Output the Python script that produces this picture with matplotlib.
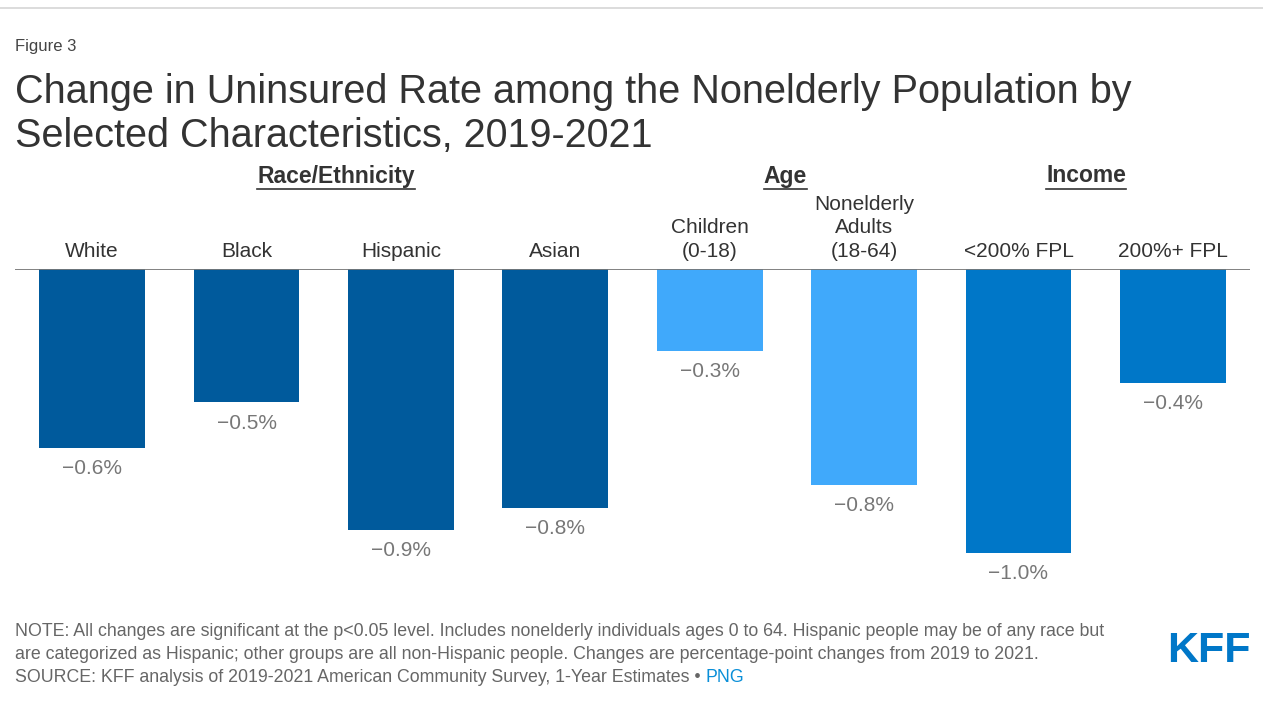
import matplotlib
matplotlib.use("Agg")
import matplotlib.pyplot as plt
from matplotlib.lines import Line2D
from matplotlib import font_manager

plt.rcParams['font.family'] = ['Liberation Sans', 'DejaVu Sans']

# data (percentage-point change 2019-2021)
categories = ['White', 'Black', 'Hispanic', 'Asian', 'Children\n(0-18)',
              'Nonelderly\nAdults\n(18-64)', '<200% FPL', '200%+ FPL']
values = [-0.63, -0.47, -0.92, -0.84, -0.29, -0.76, -1.0, -0.40]
groups = ['race', 'race', 'race', 'race', 'age', 'age', 'income', 'income']
group_titles = ['Race/Ethnicity', 'Age', 'Income']
group_pos = [1.58, 4.49, 6.44]

colors = {'race': '#005a9c', 'age': '#40a9fb', 'income': '#0077c8'}

W, H = 1263, 709
fig = plt.figure(figsize=(W / 100, H / 100), dpi=100)

# axes: x from 15 to 1250 px, y from 269 to 600 px
ax = fig.add_axes([15 / W, 1 - 600 / H, 1235 / W, 331 / H])
x = list(range(len(categories)))
ax.bar(x, values, width=0.685, color=[colors[g] for g in groups], zorder=2)
ax.set_xlim(-0.5, 7.5)
ax.set_ylim(-(600 - 269) / 284, 0)
ax.axhline(0, color='#777777', lw=1.3, zorder=3)
for s in ax.spines.values():
    s.set_visible(False)
ax.set_xticks([])
ax.set_yticks([])

for xi, v, lab in zip(x, values, categories):
    ax.annotate(lab, (xi, 0), xytext=(0, 6), textcoords='offset points',
                ha='center', va='bottom', fontsize=15, color='#333333',
                linespacing=1.3)
    ax.annotate('\u2212%.1f%%' % abs(v), (xi, v), xytext=(0, -8),
                textcoords='offset points', ha='center', va='top',
                fontsize=15, color='#777777')

# group headers, bold and underlined
hdrs = []
for t, gx in zip(group_titles, group_pos):
    h = ax.text(gx, 0, t, ha='center', va='center', fontsize=16.5,
                fontweight='bold', color='#333333')
    h.set_transform(ax.get_xaxis_transform().__class__(ax.transData, fig.transFigure)
                    if False else
                    matplotlib.transforms.blended_transform_factory(ax.transData, fig.transFigure))
    h.set_position((gx, 1 - 176 / H))
    hdrs.append(h)

fig.canvas.draw()
r = fig.canvas.get_renderer()
for h in hdrs:
    bb = h.get_window_extent(r)
    fig.add_artist(Line2D([bb.x0 / W, bb.x1 / W], [(bb.y0 - 1) / H] * 2,
                          transform=fig.transFigure, color='#333333', lw=1.2))

# top rule
fig.add_artist(Line2D([0, 1], [1 - 8 / H] * 2, transform=fig.transFigure,
                      color='#d5d5d5', lw=1.2))

fig.text(15 / W, 1 - 47 / H, 'Figure 3', fontsize=12, color='#444444',
         va='center')
fig.text(15 / W, 1 - 114 / H,
         'Change in Uninsured Rate among the Nonelderly Population by\n'
         'Selected Characteristics, 2019-2021',
         fontsize=28.5, color='#333333', va='center', linespacing=1.22)

note = ('NOTE: All changes are significant at the p<0.05 level. Includes nonelderly individuals ages 0 to 64. '
        'Hispanic people may be of any race but\n'
        'are categorized as Hispanic; other groups are all non-Hispanic people. '
        'Changes are percentage-point changes from 2019 to 2021.')
fig.text(15 / W, 1 - 643 / H, note, fontsize=12.8, color='#666666',
         va='center', linespacing=1.45)
src = fig.text(15 / W, 1 - 678 / H,
               'SOURCE: KFF analysis of 2019-2021 American Community Survey, 1-Year Estimates \u2022 ',
               fontsize=12.8, color='#666666', va='center')
fig.canvas.draw()
bb = src.get_window_extent(r)
fig.text(bb.x1 / W, 1 - 678 / H, 'PNG', fontsize=12.8, color='#0a8fd8', va='center')

names = {f.name for f in font_manager.fontManager.ttflist}
logo_font = 'Liberation Sans Narrow' if 'Liberation Sans Narrow' in names else 'Liberation Sans'
fig.text(1251 / W, 1 - 651 / H, 'KFF', fontsize=34 if logo_font.endswith('Narrow') else 31,
         fontweight='bold', color='#0077c8', ha='right', va='center', family=logo_font)

fig.savefig('out.png', dpi=100)
